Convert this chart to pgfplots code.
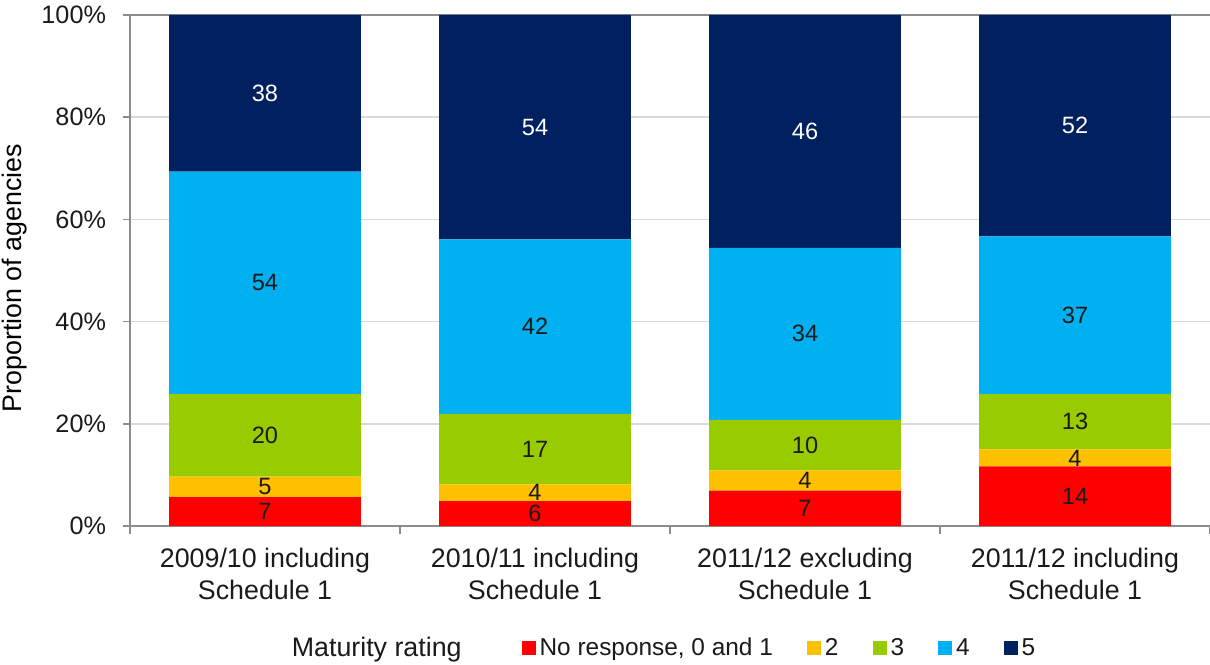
\documentclass[border=0pt]{standalone}
\usepackage{fontspec}
\setmainfont{Liberation Sans}
\usepackage{pgfplots}
\pgfplotsset{compat=1.18}

\definecolor{cRed}{HTML}{FF0000}
\definecolor{cYellow}{HTML}{FFC000}
\definecolor{cGreen}{HTML}{99CC00}
\definecolor{cBlue}{HTML}{00B0F0}
\definecolor{cNavy}{HTML}{002060}
\definecolor{axisgray}{HTML}{8C8C8C}
\definecolor{gridgray}{HTML}{D9D9D9}
\definecolor{txt}{HTML}{1A1A1A}

\newcommand{\tickfont}{\fontsize{12.6}{15}\selectfont}
\newcommand{\legfont}{\fontsize{12.2}{15}\selectfont}
\newcommand{\barfont}{\fontsize{11.8}{14}\selectfont}
\newcommand{\titlefont}{\fontsize{13.4}{16}\selectfont}

\begin{document}
\begin{tikzpicture}
\useasboundingbox (-65pt,-69pt) rectangle (540pt,263pt);
\begin{axis}[at={(0,0)}, anchor=south west, scale only axis,
  width=540pt, height=255.5pt,
  ybar stacked, bar width=0.711,
  xmin=-0.5, xmax=3.5, ymin=0, ymax=100,
  axis x line*=bottom, axis y line*=left,
  axis line style={draw=axisgray, line width=0.8pt},
  tick align=outside,
  tick style={draw=axisgray, line width=0.8pt},
  major tick length=3.5pt, minor tick length=4pt,
  xtick={0,1,2,3},
  major x tick style={draw=none},
  minor xtick={-0.5,0.5,1.5,2.5,3.5},
  xticklabels={{2009/10 including\\Schedule 1},{2010/11 including\\Schedule 1},
    {2011/12 excluding\\Schedule 1},{2011/12 including\\Schedule 1}},
  xticklabel style={align=center, font=\titlefont, text=txt, yshift=-4pt},
  ytick={0,20,40,60,80},
  yticklabels={0\%,20\%,40\%,60\%,80\%},
  extra y ticks={100}, extra y tick labels={100\%},
  extra y tick style={major grid style={draw=axisgray, line width=0.8pt}},
  yticklabel style={font=\tickfont, text=txt, xshift=-5pt},
  ymajorgrids, grid style={draw=gridgray, line width=0.8pt},
  ylabel={Proportion of agencies},
  ylabel style={at={(axis description cs:-0.1065,0.485)}, anchor=center, font=\titlefont, text=black},
  legend image code/.code={\fill[#1] (0pt,-3.5pt) rectangle (7pt,3.5pt);},
  legend style={draw=none, at={(0.494,-0.239)}, anchor=center, legend columns=-1,
    font=\legfont, text=txt,
    /tikz/every odd column/.append style={column sep=0pt},
    /tikz/every even column/.append style={column sep=15pt}},
  ]
\addlegendimage{empty legend}
\addlegendentry{\titlefont Maturity rating\rule{13pt}{0pt}}
\addplot[fill=cRed, draw=none] coordinates {(0,5.65) (1,4.88) (2,6.93) (3,11.67)};
\addlegendentry{No response, 0 and 1}
\addplot[fill=cYellow, draw=none] coordinates {(0,4.03) (1,3.25) (2,3.96) (3,3.33)};
\addlegendentry{2}
\addplot[fill=cGreen, draw=none] coordinates {(0,16.13) (1,13.82) (2,9.90) (3,10.83)};
\addlegendentry{3}
\addplot[fill=cBlue, draw=none] coordinates {(0,43.55) (1,34.15) (2,33.66) (3,30.83)};
\addlegendentry{4}
\addplot[fill=cNavy, draw=none] coordinates {(0,30.64) (1,43.90) (2,45.55) (3,43.34)};
\addlegendentry{5}
\end{axis}

% segment labels: counts placed at the middle of each segment
\begin{axis}[at={(0,0)}, anchor=south west, scale only axis,
  width=540pt, height=255.5pt,
  xmin=-0.5, xmax=3.5, ymin=0, ymax=100, hide axis,
  point meta=explicit symbolic,
  nodes near coords,
  nodes near coords style={anchor=center, font=\barfont, inner sep=0pt}]
\addplot[draw=none, mark=none, nodes near coords style={text=txt}] coordinates {
  (0,2.82)[7] (0,7.66)[5] (0,17.74)[20] (0,47.58)[54]
  (1,2.44)[6] (1,6.50)[4] (1,15.04)[17] (1,39.02)[42]
  (2,3.47)[7] (2,8.91)[4] (2,15.84)[10] (2,37.62)[34]
  (3,5.83)[14] (3,13.33)[4] (3,20.42)[13] (3,41.25)[37]};
\addplot[draw=none, mark=none, nodes near coords style={text=white}] coordinates {
  (0,84.68)[38] (1,78.05)[54] (2,77.23)[46] (3,78.33)[52]};
\end{axis}
\end{tikzpicture}
\end{document}
